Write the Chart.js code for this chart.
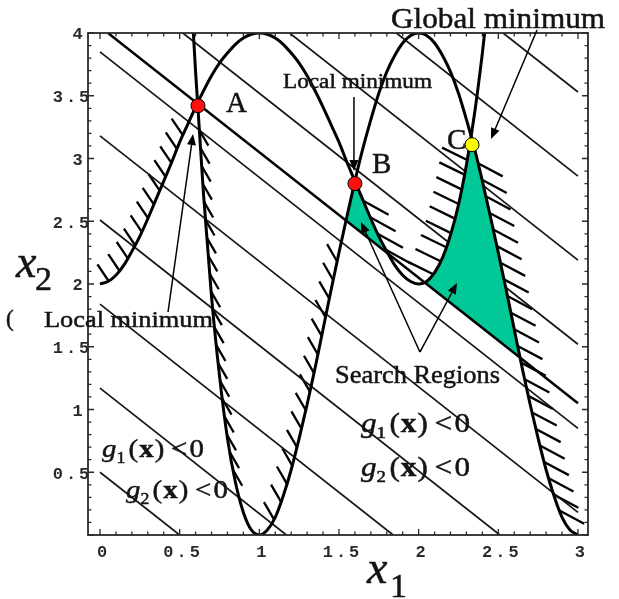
<!DOCTYPE html>
<html>
<head>
<meta charset="utf-8">
<title>Search regions</title>
<script src="https://cdn.jsdelivr.net/npm/chart.js@4/dist/chart.umd.min.js"></script>
<style>
  html, body { margin: 0; padding: 0; background: #fff; }
  #plot { display: block; }
</style>
</head>
<body>
<canvas id="plot" width="619" height="599"></canvas>
<script>
"use strict";

// boundary g1(x) = 0 : x2 along x1
var g1X = [0, 0.05, 0.1, 0.15, 0.2, 0.25, 0.3, 0.35, 0.4, 0.45, 0.5, 0.55, 0.6, 0.65, 0.7, 0.75, 0.8, 0.85, 0.9, 0.95,
           1, 1.05, 1.1, 1.15, 1.2, 1.25, 1.3, 1.35, 1.4, 1.45, 1.5, 1.55, 1.6, 1.65, 1.7, 1.75, 1.8, 1.85, 1.9, 1.95,
           2, 2.05, 2.1, 2.15, 2.2, 2.25, 2.3, 2.35, 2.4, 2.414];
var g1Y = [2.00, 2.02, 2.07, 2.15, 2.26, 2.38, 2.52, 2.67, 2.82, 2.97, 3.13, 3.27, 3.41, 3.54, 3.66, 3.76, 3.84, 3.91, 3.96, 3.99,
           4.00, 3.99, 3.96, 3.91, 3.84, 3.76, 3.66, 3.54, 3.41, 3.27, 3.13, 2.97, 2.82, 2.67, 2.52, 2.38, 2.26, 2.15, 2.07, 2.02,
           2.00, 2.02, 2.09, 2.21, 2.39, 2.63, 2.95, 3.35, 3.84, 4.00];

// boundary g2(x) = 0
var g2X = [0.586, 0.6, 0.65, 0.7, 0.75, 0.8, 0.85, 0.9, 0.95, 1, 1.05, 1.1, 1.15, 1.2, 1.25, 1.3, 1.35, 1.4, 1.45, 1.5,
           1.55, 1.6, 1.65, 1.7, 1.75, 1.8, 1.85, 1.9, 1.95, 2, 2.05, 2.1, 2.15, 2.2, 2.25, 2.3, 2.35, 2.4, 2.45, 2.5,
           2.55, 2.6, 2.65, 2.7, 2.75, 2.8, 2.85, 2.9, 2.95, 3];
var g2Y = [4.00, 3.69, 2.71, 1.90, 1.27, 0.77, 0.42, 0.18, 0.04, 0.00, 0.04, 0.14, 0.31, 0.52, 0.77, 1.04, 1.33, 1.64, 1.95, 2.25,
           2.54, 2.82, 3.08, 3.31, 3.52, 3.69, 3.82, 3.92, 3.98, 4.00, 3.98, 3.92, 3.82, 3.69, 3.52, 3.31, 3.08, 2.82, 2.54, 2.25,
           1.95, 1.64, 1.33, 1.04, 0.77, 0.52, 0.31, 0.14, 0.04, 0.00];

// objective contours x1 + x2 = c
var levels = [0.5, 1.17, 1.84, 2.51, 3.18, 3.85, 4.52, 5.19, 5.86, 6.53];
var levelA = 4.05;

// minima
var minNames = ['A', 'B', 'C'];
var minX = [0.615, 1.6, 2.335];
var minY = [3.42, 2.8, 3.11];
var minColors = ['#ff1010', '#ff1010', '#ffff00'];

// feasible pockets lying beyond the contour through A
var pocketBX = [1.545, 1.55, 1.6, 1.65, 1.7, 1.75, 1.795];
var pocketBY = [2.505, 2.54, 2.82, 2.67, 2.52, 2.38, 2.255];
var pocketCX = [2.04, 2.1, 2.15, 2.2, 2.25, 2.3, 2.33, 2.35, 2.4, 2.45, 2.5, 2.55, 2.6, 2.637];
var pocketCY = [2.01, 2.09, 2.21, 2.39, 2.63, 2.95, 3.18, 3.08, 2.82, 2.54, 2.25, 1.95, 1.64, 1.413];

var xTicks = [0, 0.5, 1, 1.5, 2, 2.5, 3];
var yTicks = [0.5, 1, 1.5, 2, 2.5, 3, 3.5, 4];

var BOX_X = 3, BOX_Y = 4;
var GREEN = '#00c896';
var SERIF = '"Liberation Serif", "Times New Roman", serif';
var MONO = '"Liberation Mono", "Courier New", monospace';

// short strokes on the infeasible side of each boundary
var hatching = [
  { curve: 'g1', from: 0.01, to: 0.53, gap: 15, len: 20, angle: 236 },
  { curve: 'g2', from: 0.62, to: 0.85, gap: 18, len: 18, angle: 60 },
  { curve: 'g2', from: 1.06, to: 1.51, gap: 19, len: 20, angle: 240 },
  { curve: 'g1', from: 1.63, to: 1.80, gap: 18, len: 29, angle: 29 },
  { curve: 'g1', from: 2.06, to: 2.31, gap: 15, len: 28, angle: 206 },
  { curve: 'g2', from: 2.36, to: 2.90, gap: 17, len: 28, angle: 28 }
];

// arrows, tail -> head, in axis units
var pointers = [
  [0.427, 1.777, 0.584, 3.195],
  [1.594, 3.49, 1.594, 2.90],
  [2.743, 4.024, 2.454, 3.155],
  [2.008, 1.458, 1.638, 2.494],
  [2.008, 1.458, 2.241, 2.008]
];

var notes = [
  { text: 'Global minimum', x: 391, y: 28, size: 30, w: 214 },
  { text: 'Local minimum', x: 283, y: 88, size: 21, w: 149 },
  { text: 'Local minimum', x: 44, y: 327, size: 24, w: 169 },
  { text: 'Search Regions', x: 335, y: 383, size: 26, w: 165 },
  { text: minNames[0], x: 226, y: 112, size: 29 },
  { text: minNames[1], x: 372, y: 173, size: 29 },
  { text: minNames[2], x: 447, y: 149, size: 29 },
  { text: '(', x: 6, y: 326, size: 23 }
];

var ineqs = [
  { k: '1', x: 102, y: 457, size: 26, w: 102 },
  { k: '2', x: 126, y: 498, size: 26, w: 102 },
  { k: '1', x: 361, y: 432, size: 28, w: 109 },
  { k: '2', x: 361, y: 476, size: 28, w: 109 }
];

function zip(xs, ys) {
  return xs.map(function (x, i) { return { x: x, y: ys[i] }; });
}

// clip the contour x1 + x2 = c to the sampled box
function levelLine(c) {
  return [{ x: Math.max(0, c - BOX_Y), y: Math.min(BOX_Y, c) },
          { x: Math.min(BOX_X, c), y: Math.max(0, c - BOX_X) }];
}

function ends(xs, ys) {
  var n = xs.length - 1;
  return [{ x: xs[0], y: ys[0] }, { x: xs[n], y: ys[n] }];
}

var curveStyle = {
  borderColor: '#000', borderWidth: 3, pointRadius: 0, fill: false,
  cubicInterpolationMode: 'monotone', order: 1
};

var datasets = [
  {
    label: 'minima', data: zip(minX, minY), showLine: false, pointRadius: 7,
    pointBackgroundColor: minColors, pointBorderColor: '#000', pointBorderWidth: 1, order: 0
  },
  Object.assign({ label: 'g1', data: zip(g1X, g1Y) }, curveStyle),
  Object.assign({ label: 'g2', data: zip(g2X, g2Y) }, curveStyle),
  { label: 'f(A)', data: levelLine(levelA), borderColor: '#000', borderWidth: 2.5, pointRadius: 0, fill: false, order: 2 },
  { label: 'pocket B', data: zip(pocketBX, pocketBY), borderColor: 'transparent', backgroundColor: GREEN, pointRadius: 0, fill: '+1', order: 3 },
  { label: 'pocket B base', data: ends(pocketBX, pocketBY), borderColor: 'transparent', pointRadius: 0, fill: false, order: 3 },
  { label: 'pocket C', data: zip(pocketCX, pocketCY), borderColor: 'transparent', backgroundColor: GREEN, pointRadius: 0, fill: '+1', order: 3 },
  { label: 'pocket C base', data: ends(pocketCX, pocketCY), borderColor: 'transparent', pointRadius: 0, fill: false, order: 3 }
];
levels.forEach(function (c) {
  datasets.push({ label: 'f = ' + c, data: levelLine(c), borderColor: '#151515', borderWidth: 1.7, pointRadius: 0, fill: false, order: 4 });
});

function curvePixels(chart, name, from, to) {
  var xs = name === 'g1' ? g1X : g2X;
  var ys = name === 'g1' ? g1Y : g2Y;
  var sx = chart.scales.x, sy = chart.scales.y;
  var pts = [];
  for (var i = 1; i < xs.length; i++) {
    var a = xs[i - 1], b = xs[i];
    if (b < from || a > to) continue;
    var lo = Math.max(a, from), hi = Math.min(b, to);
    [lo, hi].forEach(function (v) {
      var t = (v - a) / (b - a);
      var y = ys[i - 1] + (ys[i] - ys[i - 1]) * t;
      pts.push([sx.getPixelForValue(v), sy.getPixelForValue(y)]);
    });
  }
  return pts;
}

function hatch(ctx, pts, gap, len, angle) {
  var r = angle * Math.PI / 180, dx = Math.cos(r) * len, dy = Math.sin(r) * len;
  var next = gap / 2, run = 0;
  ctx.beginPath();
  for (var i = 1; i < pts.length; i++) {
    var x0 = pts[i - 1][0], y0 = pts[i - 1][1], x1 = pts[i][0], y1 = pts[i][1];
    var seg = Math.hypot(x1 - x0, y1 - y0);
    while (seg > 0 && next <= run + seg) {
      var t = (next - run) / seg;
      var px = x0 + (x1 - x0) * t, py = y0 + (y1 - y0) * t;
      ctx.moveTo(px, py);
      ctx.lineTo(px + dx, py + dy);
      next += gap;
    }
    run += seg;
  }
  ctx.stroke();
}

function arrow(ctx, x0, y0, x1, y1) {
  var a = Math.atan2(y1 - y0, x1 - x0), L = 11, W = 4.5;
  var c = Math.cos(a), s = Math.sin(a);
  ctx.beginPath();
  ctx.moveTo(x0, y0);
  ctx.lineTo(x1 - c * L * 0.8, y1 - s * L * 0.8);
  ctx.stroke();
  ctx.beginPath();
  ctx.moveTo(x1, y1);
  ctx.lineTo(x1 - L * c + W * s, y1 - L * s - W * c);
  ctx.lineTo(x1 - L * c - W * s, y1 - L * s + W * c);
  ctx.closePath();
  ctx.fill();
}

// serif text, optionally squeezed to a width, with a light stroke for weight
function stretched(ctx, text, x, y, font, w) {
  ctx.font = font;
  var m = ctx.measureText(text).width;
  ctx.save();
  ctx.translate(x, y);
  ctx.scale(w ? w / m : 1, 1);
  ctx.fillText(text, 0, 0);
  ctx.strokeText(text, 0, 0);
  ctx.restore();
}

function tracked(ctx, text, cx, cy, sp) {
  var w = sp * (text.length - 1), i;
  for (i = 0; i < text.length; i++) w += ctx.measureText(text[i]).width;
  var x = cx - w / 2;
  for (i = 0; i < text.length; i++) {
    ctx.fillText(text[i], x, cy);
    x += ctx.measureText(text[i]).width + sp;
  }
}

function drawIneq(ctx, q) {
  var s = q.size;
  var parts = [
    ['italic ' + s + 'px ' + SERIF, 'g', 0, 0],
    [Math.round(s * 0.62) + 'px ' + SERIF, q.k, 0, s * 0.22],
    [s + 'px ' + SERIF, '(', 3, 0],
    ['bold ' + s + 'px ' + SERIF, 'x', 1, 0],
    [s + 'px ' + SERIF, ')', 1, 0],
    [s + 'px ' + SERIF, '<', 6, 0],
    [s + 'px ' + SERIF, '0', 2, 0]
  ];
  var total = 0;
  parts.forEach(function (p) { ctx.font = p[0]; total += p[2] + ctx.measureText(p[1]).width; });
  var k = q.w / total, cx = q.x;
  parts.forEach(function (p) {
    ctx.font = p[0];
    cx += p[2] * k;
    ctx.save();
    ctx.translate(cx, q.y + p[3]);
    ctx.scale(k, 1);
    ctx.fillText(p[1], 0, 0);
    ctx.strokeText(p[1], 0, 0);
    ctx.restore();
    cx += ctx.measureText(p[1]).width * k;
  });
}

function fmt(v) {
  return v % 1 === 0 ? String(v) : v.toFixed(1);
}

var decor = {
  id: 'decor',
  beforeDatasetsDraw: function (chart) {
    var ctx = chart.ctx;
    ctx.save();
    ctx.strokeStyle = '#000';
    ctx.lineWidth = 2.3;
    ctx.lineCap = 'butt';
    hatching.forEach(function (h) {
      hatch(ctx, curvePixels(chart, h.curve, h.from, h.to), h.gap, h.len, h.angle);
    });
    ctx.restore();
  },
  afterDatasetsDraw: function (chart) {
    var ctx = chart.ctx, area = chart.chartArea;
    var sx = chart.scales.x, sy = chart.scales.y;
    ctx.save();

    // frame with inward ticks on all four sides
    ctx.strokeStyle = '#2a2a2a';
    ctx.lineWidth = 1.8;
    ctx.strokeRect(area.left, area.top, area.right - area.left, area.bottom - area.top);
    ctx.lineWidth = 1.3;
    ctx.beginPath();
    var i, p, len;
    for (i = 0; i <= 30; i++) {
      p = sx.getPixelForValue(i / 10);
      len = i % 5 === 0 ? 6 : 3.5;
      ctx.moveTo(p, area.bottom); ctx.lineTo(p, area.bottom - len);
      ctx.moveTo(p, area.top); ctx.lineTo(p, area.top + len);
    }
    for (i = 0; i <= 40; i++) {
      p = sy.getPixelForValue(i / 10);
      len = i % 5 === 0 ? 6 : 3.5;
      ctx.moveTo(area.left, p); ctx.lineTo(area.left + len, p);
      ctx.moveTo(area.right, p); ctx.lineTo(area.right - len, p);
    }
    ctx.stroke();

    // tick labels
    ctx.fillStyle = '#2b2b2b';
    ctx.font = 'bold 17px ' + MONO;
    ctx.textBaseline = 'middle';
    ctx.textAlign = 'left';
    xTicks.forEach(function (v) {
      tracked(ctx, fmt(v), sx.getPixelForValue(v) + 2, area.bottom + 18, 3);
    });
    yTicks.forEach(function (v) {
      var t = fmt(v);
      tracked(ctx, t, area.left - (t.length > 1 ? 17 : 10.5), sy.getPixelForValue(v) + 2, 3);
    });

    // arrows
    ctx.strokeStyle = '#000';
    ctx.fillStyle = '#000';
    ctx.lineWidth = 1.5;
    pointers.forEach(function (a) {
      arrow(ctx, sx.getPixelForValue(a[0]), sy.getPixelForValue(a[1]),
            sx.getPixelForValue(a[2]), sy.getPixelForValue(a[3]));
    });
    ctx.restore();
  },
  afterDraw: function (chart) {
    var ctx = chart.ctx;
    ctx.save();
    ctx.fillStyle = '#141414';
    ctx.strokeStyle = '#141414';
    ctx.lineWidth = 0.5;
    ctx.textBaseline = 'alphabetic';
    ctx.textAlign = 'left';
    notes.forEach(function (n) {
      stretched(ctx, n.text, n.x, n.y, n.size + 'px ' + SERIF, n.w);
    });
    ineqs.forEach(function (q) { drawIneq(ctx, q); });

    // axis titles
    stretched(ctx, 'x', 367, 583, 'italic 46px ' + SERIF);
    stretched(ctx, '1', 390, 597, '34px ' + SERIF);
    stretched(ctx, 'x', 16, 277, 'italic 46px ' + SERIF);
    stretched(ctx, '2', 35, 290, '34px ' + SERIF);
    ctx.restore();
  }
};

new Chart(document.getElementById('plot'), {
  type: 'line',
  data: { datasets: datasets },
  options: {
    responsive: false,
    animation: false,
    devicePixelRatio: 1,
    events: [],
    layout: { padding: { left: 88, right: 31, top: 33, bottom: 64 } },
    scales: {
      x: { type: 'linear', min: -0.0753, max: 3.063, display: false },
      y: { type: 'linear', min: 0, max: 4, display: false }
    },
    plugins: {
      legend: { display: false },
      tooltip: { enabled: false }
    }
  },
  plugins: [decor]
});
</script>
</body>
</html>
